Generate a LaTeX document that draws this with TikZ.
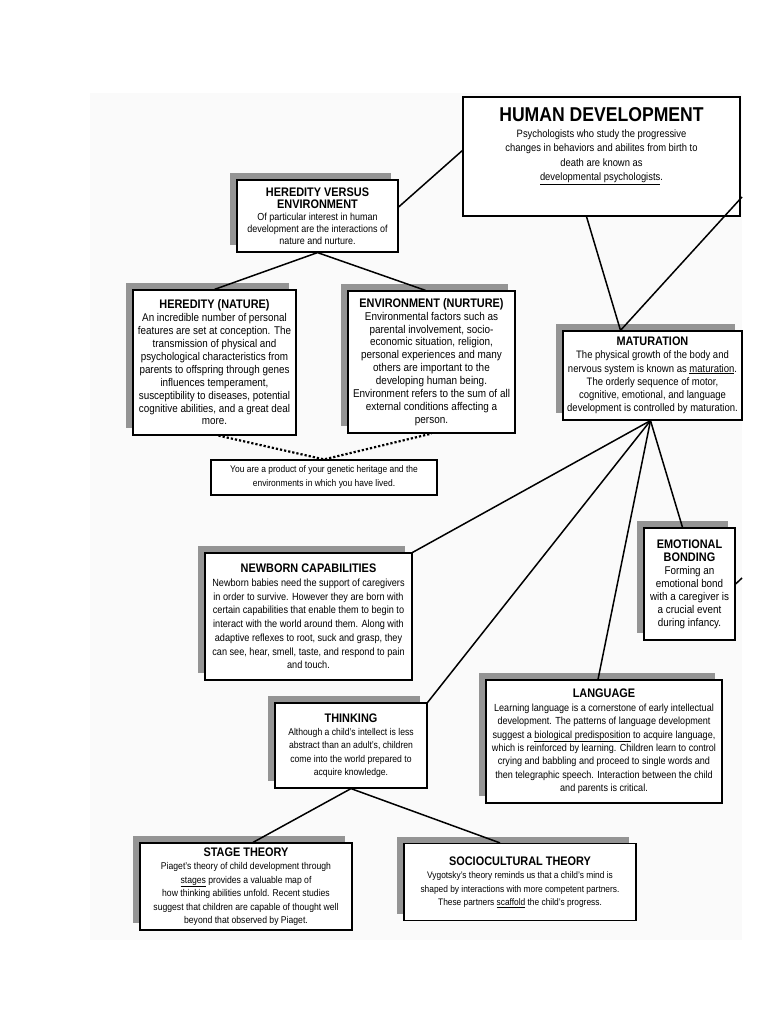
\documentclass[tikz,border=0pt]{standalone}
\usepackage{fontspec}
\setmainfont{Liberation Sans}[FakeStretch=0.88]
\usetikzlibrary{shadows,positioning,calc}
\newcommand{\boxtitle}[1]{{\fontsize{12.4}{14}\selectfont\bfseries #1}}
\newcommand{\bodysize}[2]{\fontsize{#1}{#2}\selectfont}

\begin{document}
\begin{tikzpicture}[x=1pt,y=-1pt,
    every node/.style={font=\bodysize{10}{13}},
    concept/.style={draw, line width=1.2pt, fill=white, align=center, inner sep=2pt,
        drop shadow={shadow xshift=-7pt, shadow yshift=7pt, fill=black!42, opacity=1}},
    plainbox/.style={draw, line width=1.2pt, fill=white, align=center, inner sep=2pt},
    link/.style={line width=1.5pt},
    dotlink/.style={line width=2.2pt, dotted}]
    \useasboundingbox (0,0) rectangle (768,1024);
    % scanned page
    \fill[black!2] (90,93) rectangle (742,940);

    \node[plainbox, minimum width=277pt, minimum height=119pt, font=\bodysize{10.7}{14.5}] (hd) at (601.5,156.5)
        {{\fontsize{20}{24}\selectfont\bfseries HUMAN DEVELOPMENT}\\[1pt]
         Psychologists who study the progressive\\
         changes in behaviors and abilites from birth to\\
         death are known as\\
         \underline{developmental psychologists}.\\[10pt]\mbox{}};

    \node[concept, minimum width=161pt, minimum height=72pt, font=\bodysize{10.2}{12}] (hve) at (317.5,216)
        {\boxtitle{HEREDITY VERSUS}\\ \boxtitle{ENVIRONMENT}\\
         Of particular interest in human\\
         development are the interactions of\\
         nature and nurture.};

    \node[concept, minimum width=163pt, minimum height=145pt, font=\bodysize{11.2}{12.9}] (her) at (214.5,362.5)
        {\boxtitle{HEREDITY (NATURE)}\\
         An incredible number of personal\\
         features are set at conception. The\\
         transmission of physical and\\
         psychological characteristics from\\
         parents to offspring through genes\\
         influences temperament,\\
         susceptibility to diseases, potential\\
         cognitive abilities, and a great deal\\
         more.};

    \node[concept, minimum width=167pt, minimum height=142pt, font=\bodysize{11.3}{12.9}] (env) at (431.5,362)
        {\boxtitle{ENVIRONMENT (NURTURE)}\\
         Environmental factors such as\\
         parental involvement, socio-\\
         economic situation, religion,\\
         personal experiences and many\\
         others are important to the\\
         developing human being.\\
         Environment refers to the sum of all\\
         external conditions affecting a\\
         person.};

    \node[concept, minimum width=179pt, minimum height=89pt, font=\bodysize{10.8}{13.2}] (mat) at (652.5,375.5)
        {\boxtitle{MATURATION}\\
         The physical growth of the body and\\
         nervous system is known as \underline{maturation}.\\
         The orderly sequence of motor,\\
         cognitive, emotional, and language\\
         development is controlled by maturation.};

    \node[plainbox, minimum width=226pt, minimum height=35pt, font=\bodysize{9.6}{14}] (prod) at (324,477.5)
        {You are a product of your genetic heritage and the\\
         environments in which you have lived.};

    \node[concept, minimum width=207pt, minimum height=127pt, font=\bodysize{10.4}{13.7}] (newb) at (308.5,616.5)
        {\boxtitle{NEWBORN CAPABILITIES}\\
         Newborn babies need the support of caregivers\\
         in order to survive. However they are born with\\
         certain capabilities that enable them to begin to\\
         interact with the world around them. Along with\\
         adaptive reflexes to root, suck and grasp, they\\
         can see, hear, smell, taste, and respond to pain\\
         and touch.};

    \node[concept, minimum width=91pt, minimum height=112pt, font=\bodysize{11.2}{13}] (emo) at (689.5,584)
        {\boxtitle{EMOTIONAL}\\ \boxtitle{BONDING}\\
         Forming an\\
         emotional bond\\
         with a caregiver is\\
         a crucial event\\
         during infancy.};

    \node[concept, minimum width=236pt, minimum height=123pt, font=\bodysize{10.3}{13.4}] (lang) at (604,741.5)
        {\boxtitle{LANGUAGE}\\
         Learning language is a cornerstone of early intellectual\\
         development. The patterns of language development\\
         suggest a \underline{biological predisposition} to acquire language,\\
         which is reinforced by learning. Children learn to control\\
         crying and babbling and proceed to single words and\\
         then telegraphic speech. Interaction between the child\\
         and parents is critical.};

    \node[concept, minimum width=152pt, minimum height=85pt, font=\bodysize{9.8}{13.3}] (think) at (351,745.5)
        {\boxtitle{THINKING}\\
         Although a child's intellect is less\\
         abstract than an adult's, children\\
         come into the world prepared to\\
         acquire knowledge.};

    \node[concept, minimum width=212pt, minimum height=87pt, font=\bodysize{9.8}{13.5}] (stage) at (246,886.5)
        {\boxtitle{STAGE THEORY}\\
         Piaget's theory of child development through\\
         \underline{stages} provides a valuable map of\\
         how thinking abilities unfold. Recent studies\\
         suggest that children are capable of thought well\\
         beyond that observed by Piaget.};

    \node[concept, minimum width=232pt, minimum height=77pt, font=\bodysize{9.5}{13.5}] (socio) at (520,882)
        {\boxtitle{SOCIOCULTURAL THEORY}\\
         Vygotsky's theory reminds us that a child's mind is\\
         shaped by interactions with more competent partners.\\
         These partners \underline{scaffold} the child's progress.};

    % off-page ends
    \coordinate (offtop) at (742,197);
    \coordinate (offemo) at (742,578);
    \coordinate (matin) at ([xshift=-32pt]mat.north);
    \coordinate (matout) at ([xshift=-2pt]mat.south);

    \draw[link] ([yshift=6pt]hd.west) -- ([yshift=9pt]hve.east);
    \draw[link] ([xshift=-15pt]hd.south) -- (matin) -- (offtop);
    \draw[link] (her.north) -- (hve.south) -- ([xshift=-6pt]env.north);
    \draw[dotlink] ([xshift=4pt]her.south) -- (prod.north) -- (env.south);
    \draw[link] (matout) -- (newb.north east);
    \draw[link] (matout) -- (think.north east);
    \draw[link] (matout) -- ([xshift=-6pt]lang.north);
    \draw[link] (matout) -- ([xshift=-7pt]emo.north);
    \draw[link] (emo.east) -- (offemo);
    \draw[link] ([xshift=7pt]stage.north) -- (think.south) -- ([xshift=-20pt]socio.north);
\end{tikzpicture}
\end{document}
